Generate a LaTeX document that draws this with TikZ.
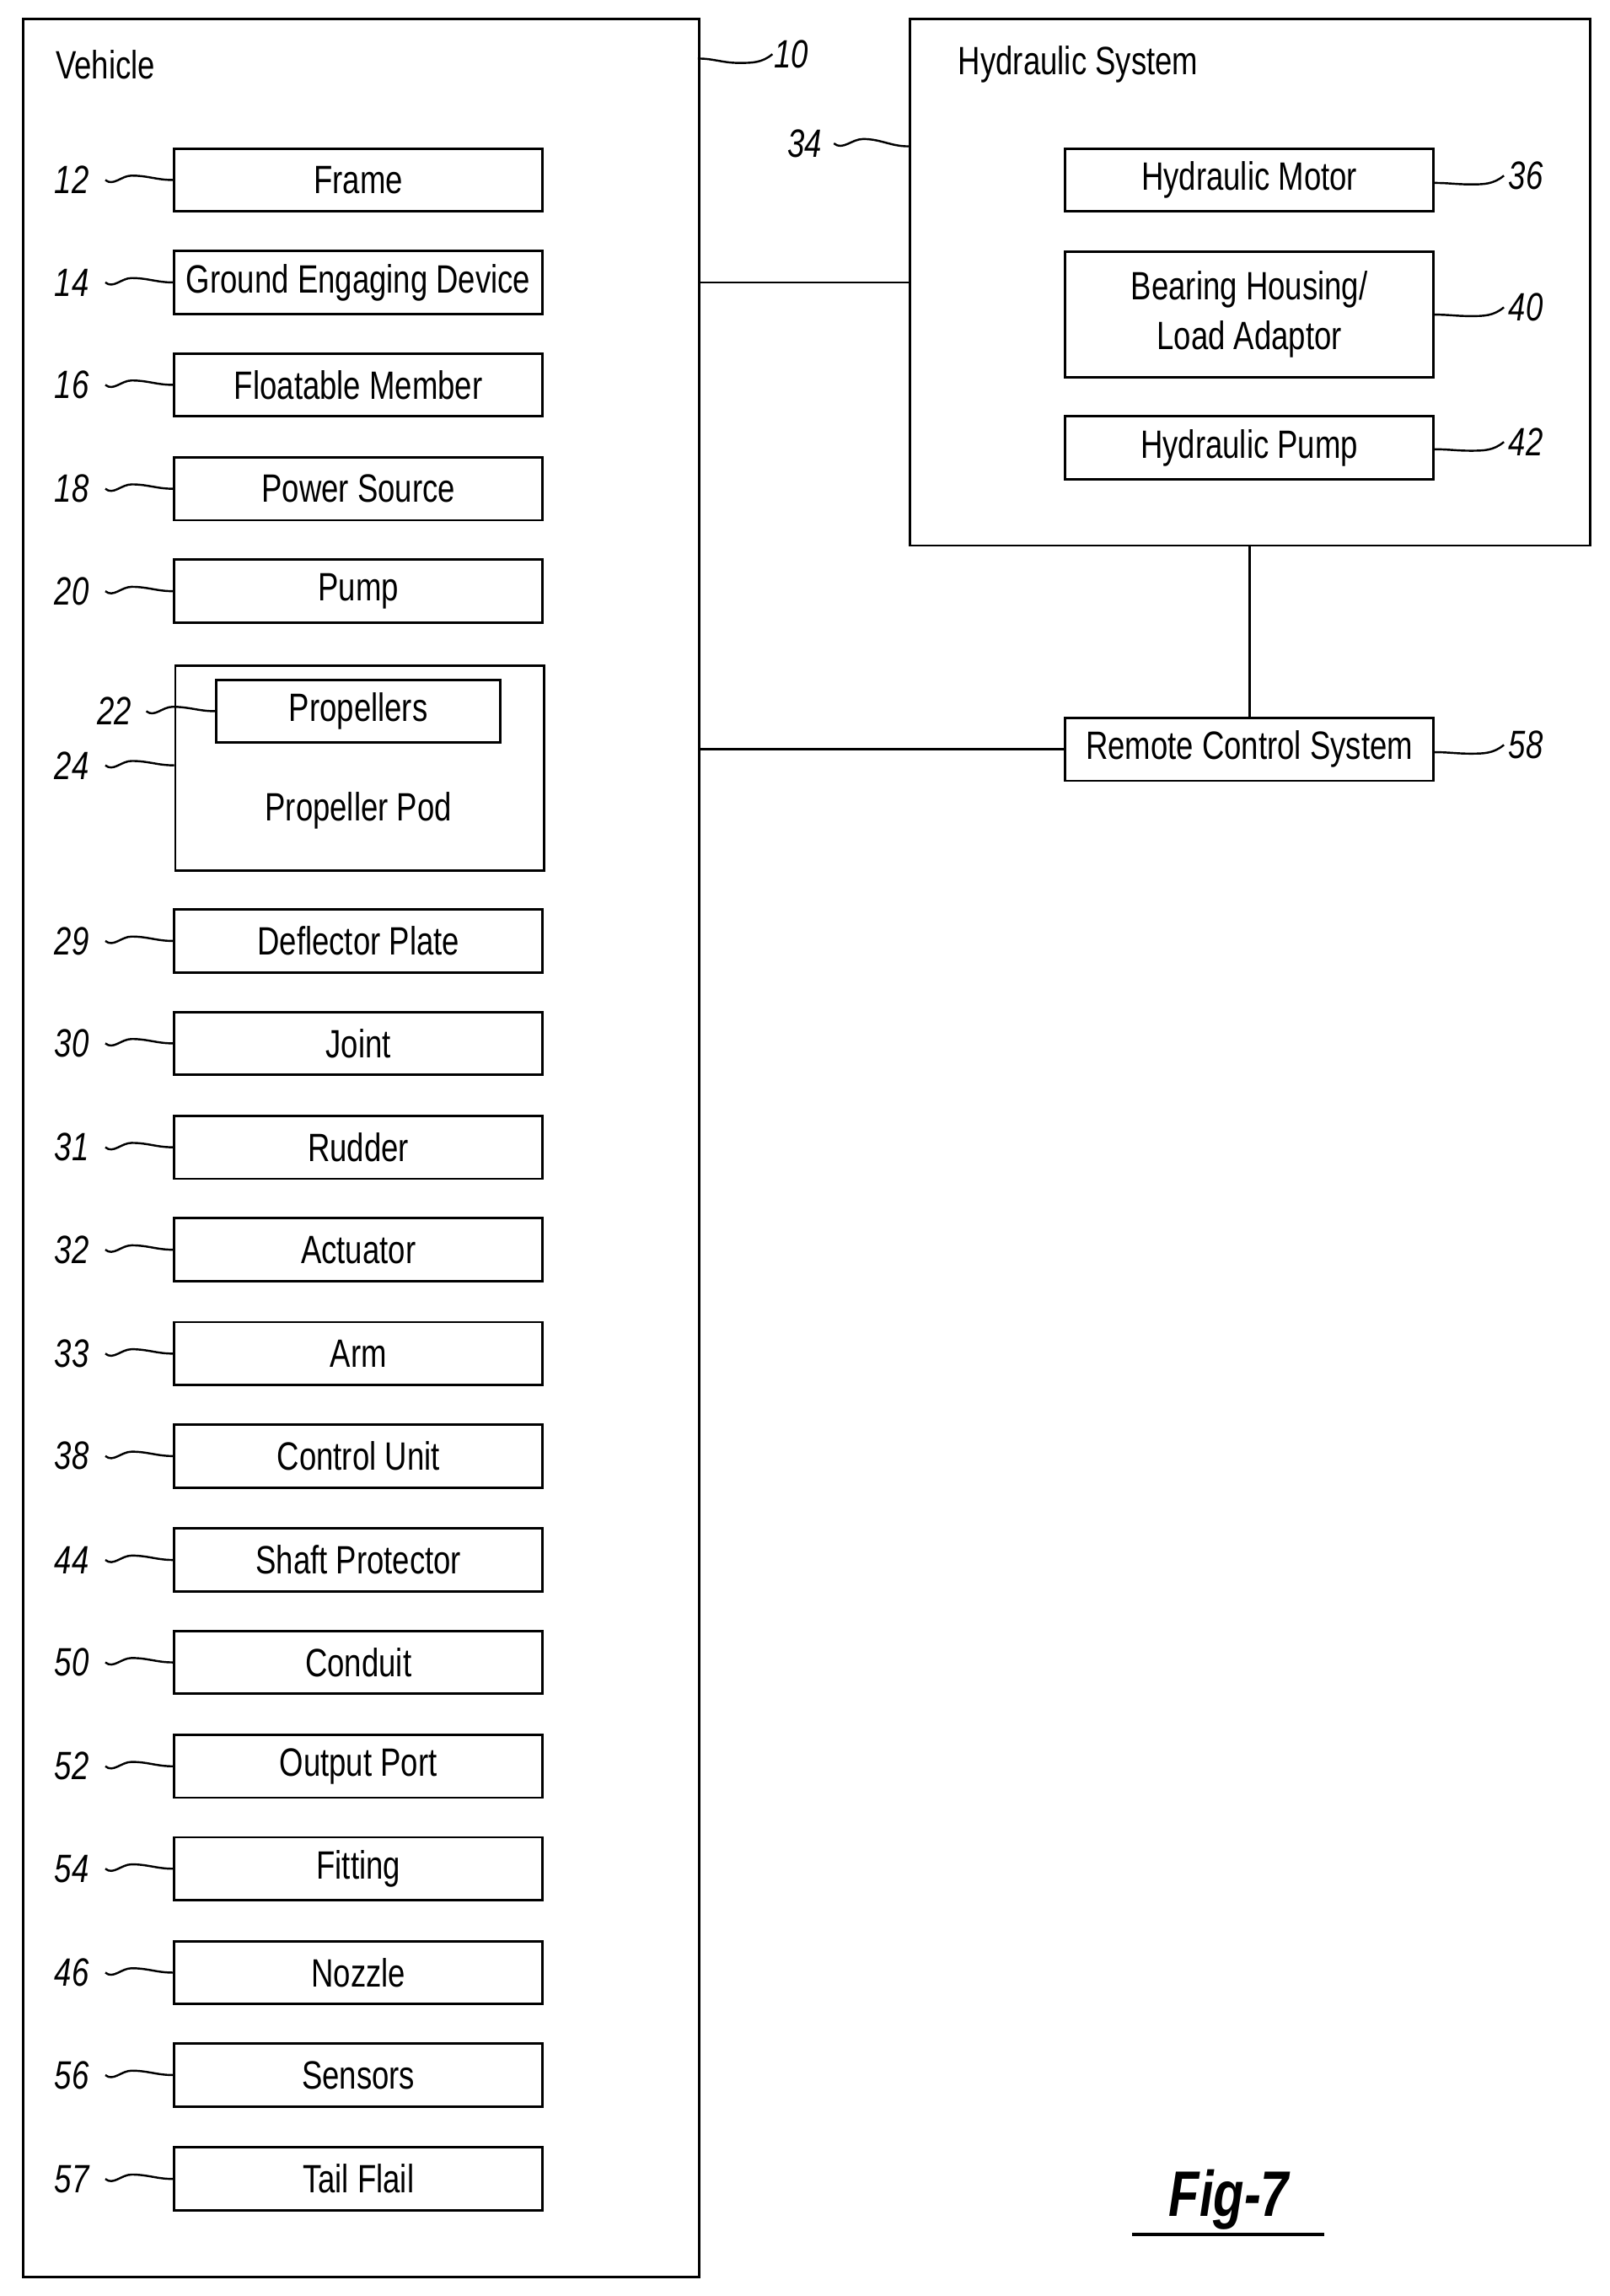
\documentclass[tikz,border=0pt]{standalone}
\usepackage{fontspec}
\setmainfont{Liberation Sans}[FakeStretch=0.78]
\begin{document}
\begin{tikzpicture}[x=1pt,y=-1pt,line width=1.6pt,
  box/.style={draw,minimum width=252pt,minimum height=43pt,inner sep=0pt,font=\fontsize{27}{30}\selectfont},
  big/.style={draw,anchor=north west,inner sep=0pt},
  num/.style={font=\fontsize{27}{30}\selectfont\itshape,inner sep=0pt},
  lead/.style={line width=1.4pt}]
\useasboundingbox (0,0) rectangle (1100,1569);
\node[big,minimum width=462pt,minimum height=1543pt] (veh) at (15,12) {};
\node[anchor=west,font=\fontsize{27}{30}\selectfont] (vt) at (34,44) {Vehicle};
\foreach \n/\y/\t in {12/123/Frame,14/193/Ground Engaging Device,16/263/Floatable Member,18/334/Power Source,20/404/Pump,29/643/Deflector Plate,30/713/Joint,31/784/Rudder,32/854/Actuator,33/925/Arm,38/995/Control Unit,44/1066/Shaft Protector,50/1136/Conduit,52/1207/Output Port,54/1277/Fitting,46/1348/Nozzle,56/1418/Sensors,57/1489/Tail Flail}{
  \node[box] (b\n) at (245,\y) {\t};
  \node[num] (n\n) at (49,\y) {\n};
  \draw[lead] (72,\y) to[out=-40,in=180] (90,\y-3) to[out=0,in=180] (b\n.west);
}
\node[big,minimum width=252pt,minimum height=140pt] (b24) at (119,454) {};
\node[box,minimum width=194pt] (b22) at (245,486) {Propellers};
\node[font=\fontsize{27}{30}\selectfont] (pp) at (245,554) {Propeller Pod};
\node[num] (n24) at (49,523) {24};
\draw[lead] (72,523) to[out=-40,in=180] (90,520) to[out=0,in=180] (119,523);
\node[num] (n22) at (78,486) {22};
\draw[lead] (100,486) to[out=-40,in=180] (118,483) to[out=0,in=180] (b22.west);
\node[num] (n10) at (541,37) {10};
\coordinate (c10) at (477,40);
\draw[lead] (c10) to[out=0,in=180] (505,43) to[out=0,in=220] (528,37);
\node[big,minimum width=465pt,minimum height=360pt] (hyd) at (621,12) {};
\node[anchor=west,font=\fontsize{27}{30}\selectfont] (ht) at (651,44) {Hydraulic System};
\node[num] (n34) at (550,98) {34};
\coordinate (c34) at (621,100);
\draw[lead] (570,98) to[out=-40,in=180] (590,95) to[out=0,in=180] (c34);
\node[box] (b36) at (854,123) {Hydraulic Motor};
\node[box,minimum height=86pt,align=center,font=\fontsize{27}{34}\selectfont] (b40) at (854,215) {Bearing Housing/\\Load Adaptor};
\node[box] (b42) at (854,306) {Hydraulic Pump};
\node[box] (b58) at (854,512) {Remote Control System};
\foreach \n/\y/\b in {36/120/b36,40/210/b40,42/302/b42,58/509/b58}{
  \node[num] (n\n) at (1043,\y) {\n};
  \draw[lead] (\b.east|-0,\y+5) to[out=0,in=180] (1005,\y+6) to[out=0,in=220] (1028,\y);
}
\draw (veh.east|-0,193) -- (hyd.west|-0,193);
\draw (hyd.south-|b58.north) -- (b58.north);
\draw (veh.east|-0,512) -- (b58.west);
\node[font=\fontsize{44}{48}\selectfont\bfseries\itshape] (fig) at (840,1503) {Fig-7};
\draw[line width=2.2pt] (774,1527) -- (905,1527);
\end{tikzpicture}
\end{document}
